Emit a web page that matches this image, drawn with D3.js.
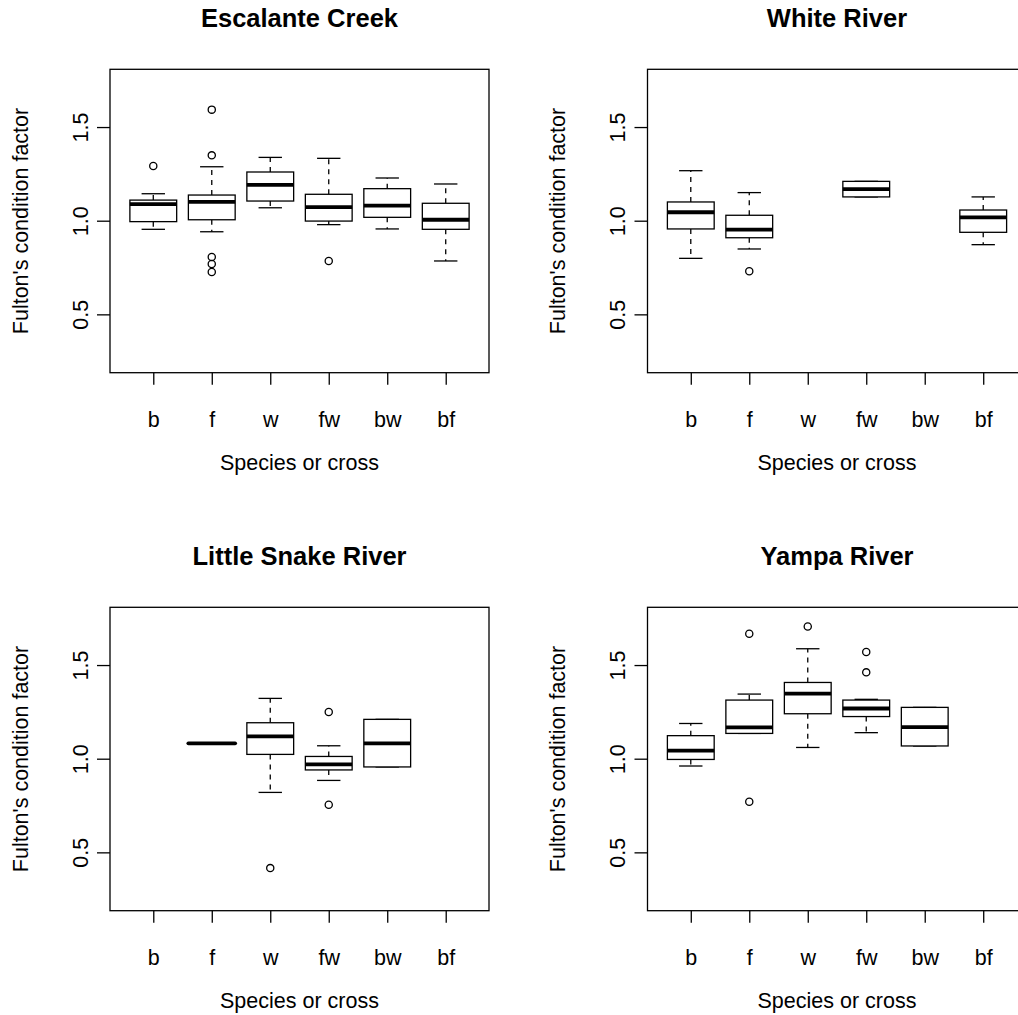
<!DOCTYPE html>
<html>
<head>
<meta charset="utf-8">
<script src="https://cdn.jsdelivr.net/npm/d3@7"></script>
<style>
  html, body { margin: 0; padding: 0; background: #fff; }
  svg { display: block; }
  text { font-family: "Liberation Sans", Arial, Helvetica, sans-serif; fill: #000; }
</style>
</head>
<body>
<svg id="chart" width="1018" height="1015"></svg>
<script>
// ---- data ----
const categories = ["b", "f", "w", "fw", "bw", "bf"];
const panelTitles = ["Escalante Creek", "White River", "Little Snake River", "Yampa River"];
const yTicks = [0.5, 1.0, 1.5];
const xAxisTitle = "Species or cross";
const yAxisTitle = "Fulton's condition factor";

// box stats per category: [lower whisker, Q1, median, Q3, upper whisker]; null = no fish
const escalanteStats = [
  [0.954, 0.995, 1.088, 1.110, 1.144],
  [0.941, 1.005, 1.100, 1.137, 1.288],
  [1.069, 1.105, 1.191, 1.260, 1.338],
  [0.979, 0.998, 1.073, 1.141, 1.333],
  [0.956, 1.018, 1.080, 1.171, 1.228],
  [0.785, 0.954, 1.005, 1.093, 1.196]
];
const escalanteOutliers = [["b", 1.292], ["f", 1.593], ["f", 1.349], ["f", 0.806], ["f", 0.769], ["f", 0.726], ["fw", 0.785]];

const whiteStats = [
  [0.799, 0.956, 1.045, 1.100, 1.267],
  [0.849, 0.909, 0.952, 1.029, 1.150],
  null,
  [1.127, 1.127, 1.169, 1.210, 1.210],
  null,
  [0.872, 0.938, 1.018, 1.057, 1.127]
];
const whiteOutliers = [["f", 0.730]];

const littleSnakeStats = [
  null,
  [1.082, 1.082, 1.082, 1.082, 1.082],
  [0.820, 1.023, 1.119, 1.192, 1.322],
  [0.884, 0.940, 0.970, 1.012, 1.069],
  [0.956, 0.956, 1.082, 1.210, 1.210],
  null
];
const littleSnakeOutliers = [["w", 0.416], ["fw", 1.249], ["fw", 0.754]];

const yampaStats = [
  [0.961, 0.996, 1.043, 1.123, 1.188],
  [1.135, 1.135, 1.167, 1.313, 1.345],
  [1.060, 1.240, 1.347, 1.407, 1.587],
  [1.139, 1.225, 1.268, 1.313, 1.317],
  [1.068, 1.068, 1.169, 1.274, 1.274],
  null
];
const yampaOutliers = [["f", 1.667], ["f", 0.770], ["w", 1.706], ["fw", 1.570], ["fw", 1.461]];

const panelStats = [escalanteStats, whiteStats, littleSnakeStats, yampaStats];
const panelOutliers = [escalanteOutliers, whiteOutliers, littleSnakeOutliers, yampaOutliers];

// ---- layout ----
const plotW = 379, plotH = 303.4;
const origins = [[110, 69.3], [647.5, 69.3], [110, 607.3], [647.5, 607.3]];
const yDomain = [0.1885, 1.8083];
const xDomain = [0.26, 6.74];
const lw = 1.3;
const axisFont = 21.5, titleFont = 25.5;

const svg = d3.select("#chart");

panelTitles.forEach((title, p) => {
  const [ox, oy] = origins[p];
  const g = svg.append("g").attr("transform", `translate(${ox},${oy})`);
  const x = d3.scaleLinear().domain(xDomain).range([0, plotW]);
  const y = d3.scaleLinear().domain(yDomain).range([plotH, 0]);
  const xi = (c) => x(categories.indexOf(c) + 1);

  // title
  g.append("text")
    .attr("x", plotW / 2).attr("y", 26.8 - oy + (p >= 2 ? 538 : 0))
    .attr("text-anchor", "middle")
    .style("font-size", titleFont + "px").style("font-weight", "bold")
    .text(title);

  // y axis
  const yAx = g.append("g").call(d3.axisLeft(y).tickValues(yTicks).tickSize(13).tickFormat(d3.format(".1f")));
  yAx.select(".domain").remove();
  yAx.selectAll(".tick line").attr("stroke", "#000").attr("stroke-width", lw);
  yAx.selectAll(".tick text")
    .attr("x", null).attr("dy", null).attr("y", null)
    .attr("text-anchor", "middle")
    .attr("transform", "translate(-22.5,0) rotate(-90)")
    .style("font-size", axisFont + "px").style("font-family", "Liberation Sans, Arial, sans-serif");

  // x axis
  const xAx = g.append("g").attr("transform", `translate(0,${plotH})`)
    .call(d3.axisBottom(x).tickValues(d3.range(1, categories.length + 1)).tickSize(12).tickFormat((d) => categories[d - 1]));
  xAx.select(".domain").remove();
  xAx.selectAll(".tick line").attr("stroke", "#000").attr("stroke-width", lw);
  xAx.selectAll(".tick text")
    .attr("y", 54.5).attr("dy", null)
    .style("font-size", axisFont + "px").style("font-family", "Liberation Sans, Arial, sans-serif");

  // axis titles
  g.append("text")
    .attr("x", plotW / 2).attr("y", plotH + 97)
    .attr("text-anchor", "middle")
    .style("font-size", axisFont + "px")
    .text(xAxisTitle);
  g.append("text")
    .attr("transform", `translate(${27.5 - 110},${plotH / 2}) rotate(-90)`)
    .attr("text-anchor", "middle")
    .style("font-size", axisFont + "px")
    .text(yAxisTitle);

  // boxes
  const boxHalf = x(0.4) - x(0);
  const stapleHalf = x(0.2) - x(0);
  panelStats[p].forEach((s, i) => {
    if (!s) return;
    const cx = xi(categories[i]);
    const [lo, q1, med, q3, hi] = s;
    const bg = g.append("g");
    // whiskers
    bg.append("line").attr("x1", cx).attr("x2", cx).attr("y1", y(q3)).attr("y2", y(hi))
      .attr("stroke", "#000").attr("stroke-width", lw).attr("stroke-dasharray", "5,5");
    bg.append("line").attr("x1", cx).attr("x2", cx).attr("y1", y(q1)).attr("y2", y(lo))
      .attr("stroke", "#000").attr("stroke-width", lw).attr("stroke-dasharray", "5,5");
    // staples
    [lo, hi].forEach((v) => {
      bg.append("line").attr("x1", cx - stapleHalf).attr("x2", cx + stapleHalf).attr("y1", y(v)).attr("y2", y(v))
        .attr("stroke", "#000").attr("stroke-width", lw);
    });
    // box
    bg.append("rect").attr("x", cx - boxHalf).attr("width", 2 * boxHalf)
      .attr("y", y(q3)).attr("height", Math.max(0, y(q1) - y(q3)))
      .attr("fill", "#fff").attr("stroke", "#000").attr("stroke-width", lw);
    // median
    bg.append("line").attr("x1", cx - boxHalf).attr("x2", cx + boxHalf).attr("y1", y(med)).attr("y2", y(med))
      .attr("stroke", "#000").attr("stroke-width", 3.8)
      .attr("stroke-linecap", q1 === q3 ? "round" : "butt");
  });

  // outliers
  g.selectAll("circle.out").data(panelOutliers[p]).enter().append("circle")
    .attr("class", "out")
    .attr("cx", (d) => xi(d[0])).attr("cy", (d) => y(d[1])).attr("r", 3.6)
    .attr("fill", "none").attr("stroke", "#000").attr("stroke-width", lw);

  // frame
  g.append("rect").attr("x", 0).attr("y", 0).attr("width", plotW).attr("height", plotH)
    .attr("fill", "none").attr("stroke", "#000").attr("stroke-width", lw);
});
</script>
</body>
</html>
